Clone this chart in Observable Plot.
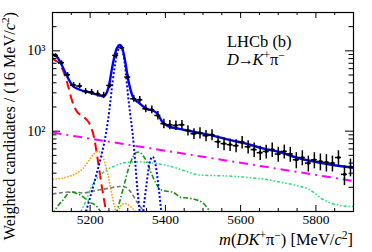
<!DOCTYPE html>
<html><head><meta charset="utf-8">
<script src="https://cdn.jsdelivr.net/npm/d3@7"></script>
<script src="https://cdn.jsdelivr.net/npm/@observablehq/plot@0.6"></script>
<style>body{margin:0;background:#fff}svg{display:block}</style>
</head><body><div id="chart"></div>
<script>
// ---- data ----
const binCenters = [5108,5124,5140,5156,5172,5188,5204,5220,5236,5252,5268,5284,5300,5316,5332,5348,5364,5380,5396,5412,5428,5444,5460,5476,5492,5508,5524,5540,5556,5572,5588,5604,5620,5636,5652,5668,5684,5700,5716,5732,5748,5764,5780,5796,5812,5828,5844,5860,5876,5892];
const counts = [877,711,504,375,365,312,305,292,279,371,877,1094,471,253,246,190,185,157,124,120,118,120,102,93,95,88,90,74,70,68,66,73,64,59,54,56,59,52,56,52,44,47,40,44,42,41,40,47,29,36];
const errors = [44,40,34,29,29,27,26,26,25,29,44,50,33,24,24,21,20,19,17,16,16,16,15,14,15,14,14,13,13,12,12,13,12,12,11,11,12,11,11,11,10,10,9,10,10,10,9,10,8,9];
const halfBin = 8;

const totalM = [5100,5113,5127,5140,5153,5171,5198,5224,5235,5243,5251,5258,5265,5272,5279,5286,5293,5300,5308,5316,5328,5340,5352,5366,5379,5392,5410,5437,5481,5526,5570,5615,5659,5703,5748,5792,5837,5900];
const totalV = [900,830,630,470,370,330,305,280,272,295,390,600,870,1100,1180,1060,750,470,320,255,228,205,188,181,165,130,114,107,97,88,78,70,61,55,47,42,38.5,35];

const redM = [5100,5104,5115,5126,5139,5152,5165,5178,5190,5200,5210,5220,5230,5237,5244];
const redV = [820,780,720,600,400,240,175,155,140,120,85,45,22,14,9];

const magM = [5100,5900];
const magV = [96,24];

const sigM = [5186,5200,5215,5230,5242,5251,5260,5270,5279,5285,5292,5300,5306,5313,5320,5326,5333];
const sigV = [9,15,27,50,93,180,420,850,1110,1060,700,300,170,93,40,18,9];

const sig2M = [5340,5350,5358,5366,5374,5382,5390];
const sig2V = [9,22,40,48,38,20,9];

const orM = [5100,5140,5165,5180,5195,5210,5222,5232,5242,5250,5258,5266,5272,5280,5290,5300,5312,5324];
const orV = [25,27,30,34,42,52,56,50,36,25,16,11,9.6,11.5,12.5,12.2,11,9.5];

const grM = [5100,5130,5155,5180,5210,5250,5280,5295,5310,5325,5340,5350];
const grV = [16.5,17.3,17.5,17,18,19.5,20.5,20,17,13,10.5,9];

const dgM = [5100,5110,5127,5148,5165,5183,5200,5215,5228,5236,5250,5268,5280,5291,5302,5313,5322,5330,5340,5349,5358,5367,5376,5385,5400,5420,5441,5460,5477,5491,5503,5512,5522];
const dgV = [9,11,13.7,17.4,16.8,15,13,11.9,10,9,5,9,14,22,34,47,54,55,50,43,34,26.7,22,19,18,17.4,15,14.7,14.2,13.5,12.4,11,9.5];

const lgM = [5170,5180,5190,5207,5225,5242,5260,5278,5300,5330,5360,5385,5410,5440,5490,5530,5580,5620,5670,5710,5750,5780,5800,5815,5835,5860,5900];
const lgV = [9,11,14,22,28,32.5,36,39,41,41.5,40.5,39,37,33.5,28.5,28,27.5,26.5,25,23,21,19,16.5,14.5,13,12,11.5];

const xTicksMajor = [5200,5400,5600,5800];
const xTicksMinor = [5100,5150,5250,5300,5350,5450,5500,5550,5650,5700,5750,5850,5900];
const yTicksMajor = [100,1000];
const yTicksMinor = [20,30,40,50,60,70,80,90,200,300,400,500,600,700,800,900,2000,3000];
const yTickLabels = {100: "10²", 1000: "10³"};

// ---- layout ----
const W = 372, H = 252;
const mL = 52, mR = 19, mT = 12, mB = 41;
const fh = H - mT - mB, fw = W - mL - mR;
const serif = "'Liberation Serif','Times New Roman',serif";

const pts = binCenters.map((m,i) => ({m, v: counts[i], e: errors[i]}));
const tbl = (M,V) => M.map((m,i) => ({m, v: V[i]}));

const lineOpt = (stroke, w, dash) => ({x:"m", y:"v", stroke, strokeWidth: w, strokeDasharray: dash, strokeLinecap: "butt", strokeLinejoin: "round", curve:"monotone-x", clip:true});

const chart = Plot.plot({
  width: W, height: H,
  marginLeft: mL, marginRight: mR, marginTop: mT, marginBottom: mB,
  style: {fontFamily: serif, fontSize: "13.5px", background: "#fff", color: "#000"},
  x: {domain: [5100, 5900], axis: null},
  y: {type: "log", domain: [10, 3000], axis: null},
  marks: [
    Plot.line(tbl(redM, redV), lineOpt("#ff0000", 2, "9,5")),
    Plot.line(tbl(magM, magV), lineOpt("#ff00ff", 2, "9,5,2,5")),
    Plot.line(tbl(orM, orV), lineOpt("#ff9900", 1.6, "1.5,1.5")),
    Plot.line(tbl(grM, grV), lineOpt("#777777", 1.6, "4,2.5")),
    Plot.line(tbl(dgM, dgV), lineOpt("#129412", 1.6, "5,2,1.5,2")),
    Plot.line(tbl(lgM, lgV), lineOpt("#22dd77", 1.5, "3,2,1.5,2,1.5,2")),
    Plot.line(tbl(sigM, sigV), lineOpt("#0000ff", 2, "2,2")),
    Plot.line(tbl(sig2M, sig2V), lineOpt("#0000ff", 2, "2,2")),
    Plot.line(tbl(totalM, totalV), lineOpt("#0000ff", 2.4, null)),
    // data with error bars
    Plot.ruleX(pts, {x:"m", y1: d => d.v - d.e, y2: d => d.v + d.e, stroke:"#000", strokeWidth:1.5}),
    Plot.ruleY(pts, {y:"v", x1: d => d.m - halfBin, x2: d => d.m + halfBin, stroke:"#000", strokeWidth:1.5}),
    Plot.dot(pts, {x:"m", y:"v", r:1.6, fill:"#000"}),
    // frame and inward ticks
    Plot.frame({stroke:"#000", strokeWidth:1.2}),
    Plot.ruleX(xTicksMajor, {x: d=>d, insetTop: fh-6, stroke:"#000"}),
    Plot.ruleX(xTicksMajor, {x: d=>d, insetBottom: fh-6, stroke:"#000"}),
    Plot.ruleX(xTicksMinor, {x: d=>d, insetTop: fh-3, stroke:"#000"}),
    Plot.ruleX(xTicksMinor, {x: d=>d, insetBottom: fh-3, stroke:"#000"}),
    Plot.ruleY(yTicksMajor, {y: d=>d, insetRight: fw-8, stroke:"#000"}),
    Plot.ruleY(yTicksMajor, {y: d=>d, insetLeft: fw-8, stroke:"#000"}),
    Plot.ruleY(yTicksMinor, {y: d=>d, insetRight: fw-4.5, stroke:"#000"}),
    Plot.ruleY(yTicksMinor, {y: d=>d, insetLeft: fw-4.5, stroke:"#000"}),
    Plot.axisX(xTicksMajor, {tickSize:0, tickPadding:3, label:null, tickFormat: d => String(d), fontSize:13.5}),
    Plot.axisY(yTicksMajor, {tickSize:0, tickPadding:7, label:null, tickFormat: d => yTickLabels[d], fontSize:14})
  ]
});
document.getElementById("chart").appendChild(chart);

// ---- rich text labels ----
const svg = d3.select(chart);
function rich(parent, parts) {
  for (const p of parts) {
    const t = parent.append("tspan").text(p.t);
    if (p.i) t.attr("font-style", "italic");
    if (p.sup) t.attr("baseline-shift", "super").attr("font-size", "0.7em");
    if (p.dx) t.attr("dx", p.dx);
  }
}
const g = svg.append("g").attr("font-family", serif).attr("fill", "#000").attr("text-anchor", "start");

// x-axis title
const xt = g.append("text").attr("x", W - mR).attr("y", 244.5).attr("text-anchor", "end").attr("font-size", 16.5);
rich(xt, [{t:"m", i:true},{t:"("},{t:"DK", i:true},{t:"+", sup:true},{t:"π"},{t:"−", sup:true},{t:") [MeV/"},{t:"c", i:true},{t:"2", sup:true},{t:"]"}]);

// y-axis title
const yt = g.append("text").attr("transform", "translate(15,12) rotate(-90)").attr("text-anchor", "end").attr("font-size", 16.2);
rich(yt, [{t:"Weighted candidates / (16 MeV/"},{t:"c", i:true},{t:"2", sup:true},{t:")"}]);

// annotations
g.append("text").attr("x", 227).attr("y", 46.5).attr("font-size", 16.5).text("LHCb (b)");
const dk = g.append("text").attr("x", 227).attr("y", 65).attr("font-size", 16.5);
rich(dk, [{t:"D", i:true},{t:"→", dx:-1.5},{t:"K", i:true, dx:-1.5},{t:"+", sup:true},{t:"π"},{t:"−", sup:true}]);
</script>
</body></html>
